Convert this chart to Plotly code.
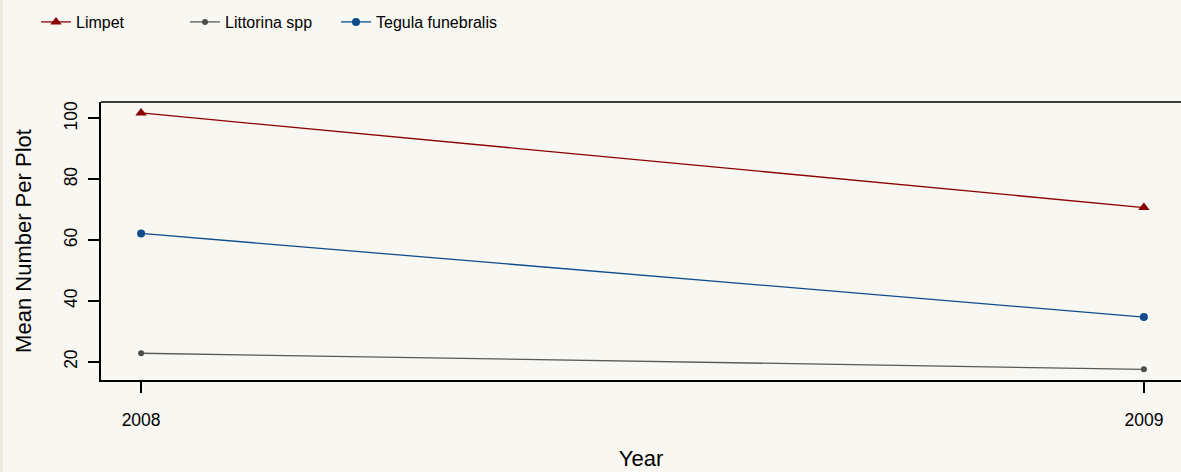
import plotly.graph_objects as go

# values
years = [2008, 2009]
limpet = [101.8, 70.7]
littorina = [22.8, 17.5]
tegula = [62.2, 34.7]
y_ticks = [20, 40, 60, 80, 100]
x_ticks = [2008, 2009]

BG = '#F8F7F2'
FONT = 'Liberation Sans, Arial, sans-serif'

fig = go.Figure()
fig.add_trace(go.Scatter(x=years, y=limpet, name='Limpet', mode='lines+markers',
                         line=dict(color='#8B0000', width=1.3), legend='legend',
                         marker=dict(symbol='triangle-up', size=10, color='#8B0000')))
fig.add_trace(go.Scatter(x=years, y=littorina, name='Littorina spp', mode='lines+markers',
                         line=dict(color='#595959', width=1.3), legend='legend2',
                         marker=dict(symbol='circle', size=6, color='#4D4D4D')))
fig.add_trace(go.Scatter(x=years, y=tegula, name='Tegula funebralis', mode='lines+markers',
                         line=dict(color='#0F4C8C', width=1.3), legend='legend3',
                         marker=dict(symbol='circle', size=8, color='#0F4C8C')))

# plot area: 101px..1181px wide, 102px..380px tall
pw, ph = 1080, 278


def legend_at(px):
    # one legend box per entry so the entries sit where the reference puts them
    return dict(orientation='h', x=(px - 101) / pw, xanchor='left',
                y=(380 - 5) / ph, yanchor='top',
                font=dict(size=16, color='black'),
                bgcolor='rgba(0,0,0,0)', itemwidth=30)


fig.update_layout(
    width=1181, height=472,
    margin=dict(l=101, r=0, t=102, b=92),
    paper_bgcolor=BG, plot_bgcolor=BG,
    font=dict(family=FONT, color='black'),
    showlegend=True,
    legend=legend_at(36),
    legend2=legend_at(185),
    legend3=legend_at(336),
    xaxis=dict(range=[2007.96, 2009.037], tickvals=x_ticks, ticktext=[str(v) for v in x_ticks],
               showgrid=False, zeroline=False, showline=True, linecolor='black', linewidth=1.5,
               ticks='outside', ticklen=11, tickwidth=1.5, tickcolor='black',
               tickfont=dict(size=17.5), ticklabelstandoff=12,
               title=dict(text='Year', font=dict(size=22), standoff=22)),
    yaxis=dict(range=[14.0, 105.4], tickvals=y_ticks,
               showgrid=False, zeroline=False, showline=True, linecolor='black', linewidth=1.5,
               ticks='outside', ticklen=11, tickwidth=1.5, tickcolor='black',
               tickfont=dict(size=17.5), tickangle=-90, ticklabelstandoff=4,
               title=dict(text='Mean Number Per Plot', font=dict(size=22), standoff=24)),
    shapes=[
        # top frame line
        dict(type='line', xref='paper', yref='paper', x0=0, x1=1, y0=1, y1=1,
             line=dict(color='black', width=1.5)),
        # thin beige strip on the left edge
        dict(type='rect', xref='paper', yref='paper', x0=-101 / pw, x1=(3 - 101) / pw,
             y0=-92 / ph, y1=(472 - 92) / ph, line=dict(width=0), fillcolor='#EEEADC', layer='below'),
    ],
)

# drop the browser's default body margin so the figure fills the window
fig.write_html('out.html', config={'displayModeBar': False},
               post_script="document.body.style.margin='0';")
